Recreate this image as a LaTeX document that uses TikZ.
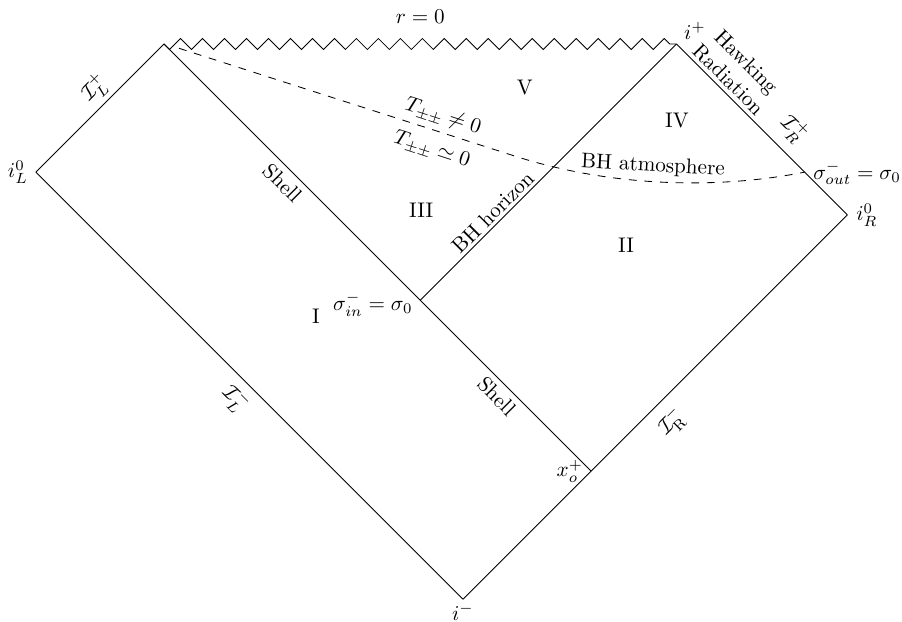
\documentclass[tikz,border=0pt]{standalone}
\usepackage{amsmath}
\usepackage{amssymb}
\usepackage{tikz}
\usetikzlibrary{decorations.pathmorphing}
\usetikzlibrary{positioning}

\begin{document}
\begin{tikzpicture}[
x=0.71cm, y=0.71cm,
every path/.style={line width=0.4pt},
singular/.style={decorate, decoration={zigzag, segment length=10.4pt, amplitude=2.6pt, mirror}},
shelldash/.style={dash pattern=on 3.7pt off 3.7pt}
]
\useasboundingbox (-0.84,-10.52) rectangle (20.28,4.03);
\coordinate (iL) at (0,0);
\coordinate (tl) at (3,3);
\coordinate (ip) at (15,3);
\coordinate (iR) at (19,-1);
\coordinate (im) at (10,-10);
\coordinate (xo) at (13,-7);
\coordinate (sin) at (9,-3);
\coordinate (sout) at (18,0);

\draw (iL) -- (tl);
\draw (iL) -- (im);
\draw (im) -- (iR);
\draw (iR) -- (ip);
\draw (tl) -- (xo);
\draw (sin) -- (ip);
\draw[singular] (tl) -- (ip);
\draw[shelldash] (3.35,2.9) -- (11.2,0.38) .. controls (13.5,-0.36) and (16,-0.4) .. (sout);

% points
\node (rzero) at (9,3.63) {$r=0$};
\node (iplus) at (15.43,3.3) {$i^+$};
\node (iminus) at (10,-10.3) {$i^-$};
\node (iLzero) at (-0.42,0) {$i^0_L$};
\node (iRzero) at (19.46,-1.01) {$i^0_R$};
\node (xolbl) at (12.5,-7) {$x^+_o$};
\node (sinlbl) at (7.89,-3.09) {$\sigma^-_{in}=\sigma_0$};
\node (soutlbl) at (19.23,-0.02) {$\sigma^-_{out}=\sigma_0$};

% null infinities
\node[rotate=45] (scriLp) at (1.38,1.97) {$\mathcal{I}^+_L$};
\node[rotate=-45] (scriLm) at (4.68,-5.32) {$\mathcal{I}^-_L$};
\node[rotate=45] (scriRm) at (14.89,-5.85) {$\mathcal{I}^-_{\mathrm{R}}$};
\node[rotate=-45] (scriRp) at (17.75,1.01) {$\mathcal{I}^+_R$};
\node[rotate=-45, align=center] (hawking) at (16.44,2.38) {Hawking\\Radiation};

% shell and horizon
\node[rotate=-45] (shellup) at (5.78,-0.26) {Shell};
\node[rotate=-45] (shelldown) at (10.8,-5.25) {Shell};
\node[rotate=45] (horizon) at (10.7,-0.94) {BH horizon};
\node[rotate=-18] (tneq) at (9.53,1.29) {$T_{\pm\pm}\neq 0$};
\node[rotate=-18] (tsim) at (9.27,0.52) {$T_{\pm\pm}\simeq 0$};
\node[rotate=-3] (atmo) at (14.45,0.14) {BH atmosphere};

% regions
\node (regI) at (6.56,-3.37) {I};
\node (regII) at (13.82,-1.71) {II};
\node (regIII) at (9.02,-0.89) {III};
\node (regIV) at (15.01,1.22) {IV};
\node (regV) at (11.45,1.99) {V};
\end{tikzpicture}
\end{document}
